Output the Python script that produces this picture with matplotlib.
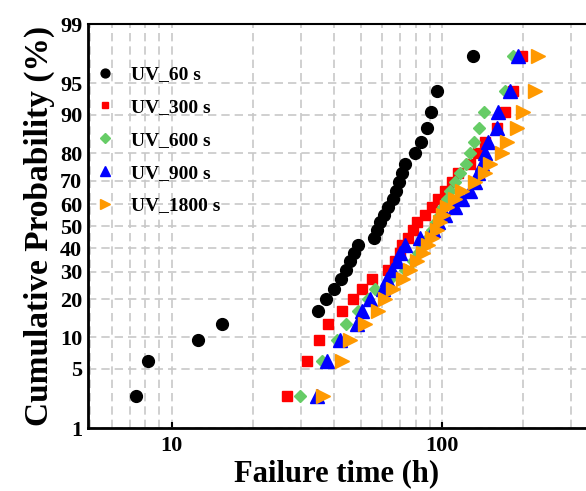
import numpy as np
import matplotlib
matplotlib.use('Agg')
import matplotlib.pyplot as plt
from matplotlib.ticker import FixedLocator, NullLocator, NullFormatter, FixedFormatter
from statistics import NormalDist

plt.rcParams['font.family'] = ['Liberation Serif', 'DejaVu Serif']
plt.rcParams['font.weight'] = 'bold'

# cumulative probability (%) of each ranked failure, shared by all series
prob = [2.5, 6.0, 9.5, 13.0, 16.5, 20.1, 23.6, 27.1, 30.6, 34.2, 37.7, 41.2, 44.7, 48.2,
        51.8, 55.3, 58.8, 62.3, 65.8, 69.4, 72.9, 76.4, 79.9, 83.5, 87.0, 90.5, 94.0, 97.5]

# failure times (h)
uv_60 = [7.4, 8.2, 12.5, 15.4, 34.7, 37.2, 39.8, 42.3, 44.1, 45.6, 47.2, 48.8, 56.0, 57.4,
         58.9, 61.0, 63.1, 65.9, 67.5, 69.3, 71.1, 72.9, 79.4, 83.6, 88.0, 91.0, 95.8, 130.2]
uv_300 = [26.7, 31.6, 35.0, 37.8, 42.6, 46.8, 50.5, 55.0, 63.1, 67.0, 69.9, 71.1, 74.8, 78.1,
          80.8, 86.5, 91.8, 96.6, 102.6, 108.9, 114.6, 127.0, 135.9, 144.3, 159.9, 171.1, 183.2, 197.9]
uv_600 = [29.8, 35.9, 40.8, 44.1, 48.8, 53.2, 56.5, 64.2, 72.9, 78.1, 81.5, 84.3, 88.7, 91.8,
          95.0, 98.3, 100.9, 104.4, 107.1, 111.7, 116.6, 122.7, 127.0, 131.4, 137.1, 143.1, 171.1, 183.2]
uv_900 = [34.4, 37.5, 41.9, 48.4, 50.5, 54.1, 60.5, 62.6, 65.3, 68.1, 69.9, 72.9, 82.9, 92.6,
          96.6, 102.6, 111.7, 118.6, 127.0, 132.5, 135.9, 140.7, 144.3, 148.0, 159.9, 161.3, 178.6, 191.2]
uv_1800 = [36.2, 42.6, 45.6, 51.9, 57.9, 61.5, 65.9, 71.7, 76.1, 80.8, 85.0, 88.7, 91.8, 95.8,
           98.3, 100.9, 104.4, 111.7, 118.6, 132.5, 144.3, 150.6, 166.8, 174.1, 189.6, 199.5, 221.1, 226.8]

labels = ['UV_60 s', 'UV_300 s', 'UV_600 s', 'UV_900 s', 'UV_1800 s']
y_ticks = [1, 5, 10, 20, 30, 40, 50, 60, 70, 80, 90, 95, 99]

nd = NormalDist()


def _ppf(v):
    if not np.isfinite(v):
        return np.nan
    return nd.inv_cdf(min(max(v / 100.0, 1e-9), 1 - 1e-9))


def _cdf(v):
    if not np.isfinite(v):
        return np.nan
    return nd.cdf(v) * 100.0


ppf = np.vectorize(_ppf, otypes=[float])
cdf = np.vectorize(_cdf, otypes=[float])

fig = plt.figure(figsize=(5.86, 4.91), dpi=100)
ax = fig.add_axes([0.150, 0.128, 0.85, 0.823])
ax.set_xscale('log')
ax.set_yscale('function', functions=(ppf, cdf))

ax.plot(uv_60, prob, 'o', color='black', ms=8.5, label=labels[0], zorder=3)
ax.plot(uv_300, prob, 's', color='#ff0000', ms=6.5, label=labels[1], zorder=3)
ax.plot(uv_600, prob, 'D', color='#66cc66', ms=6.5, label=labels[2], zorder=3)
ax.plot(uv_900, prob, '^', color='#0000ff', ms=10, label=labels[3], zorder=3)
ax.plot(uv_1800, prob, '>', color='#ff9900', ms=10, label=labels[4], zorder=3)

ax.set_xlim(4.9, 341)
ax.set_ylim(1, 99)

ax.xaxis.set_major_locator(FixedLocator([10, 100]))
ax.xaxis.set_major_formatter(FixedFormatter(['10', '100']))
ax.xaxis.set_minor_locator(FixedLocator([5, 6, 7, 8, 9, 20, 30, 40, 50, 60, 70, 80, 90, 200, 300]))
ax.xaxis.set_minor_formatter(NullFormatter())
ax.yaxis.set_major_locator(FixedLocator(y_ticks))
ax.yaxis.set_major_formatter(FixedFormatter([str(t) for t in y_ticks]))
ax.yaxis.set_minor_locator(NullLocator())

ax.tick_params(axis='both', which='major', direction='in', length=4, width=1.5, labelsize=16, pad=6)
ax.tick_params(axis='x', which='minor', length=0)
ax.tick_params(axis='y', which='major', length=0, pad=4)

ax.grid(True, which='both', axis='x', color='#c8c8c8', linestyle=(0, (5, 3)), linewidth=1.2)
ax.grid(True, which='major', axis='y', color='#c8c8c8', linestyle=(0, (5, 3)), linewidth=1.2)
ax.set_axisbelow(True)

ax.spines['right'].set_visible(False)
ax.spines['left'].set_linewidth(2)
ax.spines['bottom'].set_linewidth(2)
ax.spines['top'].set_linewidth(1.5)

ax.set_xlabel('Failure time (h)', fontsize=22, fontweight='bold', labelpad=2)
ax.set_ylabel('Cumulative Probability (%)', fontsize=24, fontweight='bold', labelpad=4)

ax.legend(loc='upper left', bbox_to_anchor=(-0.025, 0.94), frameon=False, fontsize=14,
          markerscale=0.75, handletextpad=0.75, labelspacing=0.78, handlelength=1.2)

fig.savefig('out.png', dpi=100)
